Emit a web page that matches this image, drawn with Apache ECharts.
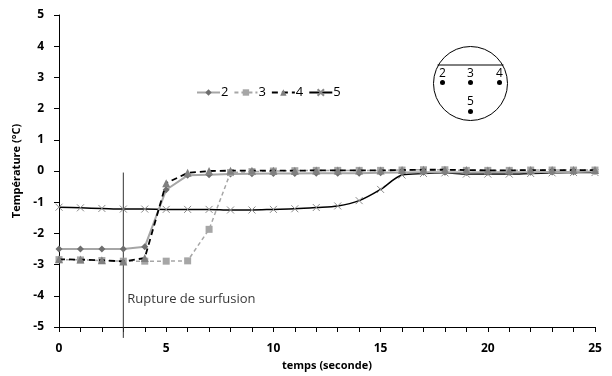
<!DOCTYPE html>
<html>
<head>
<meta charset="utf-8">
<script src="https://cdn.jsdelivr.net/npm/echarts@6/dist/echarts.min.js"></script>
<style>
  html, body { margin: 0; padding: 0; background: #fff; }
  #chart { width: 612px; height: 376px; }
</style>
</head>
<body>
<div id="chart"></div>
<script>
// temps (seconde)
const times = [0, 1, 2, 3, 4, 5, 6, 7, 8, 9, 10, 11, 12, 13, 14, 15, 16, 17, 18, 19, 20, 21, 22, 23, 24, 25];

// Température (°C) per thermocouple
const temp2 = [-2.5, -2.5, -2.5, -2.5, -2.43, -0.6, -0.14, -0.12, -0.1, -0.09, -0.08, -0.08, -0.07, -0.07, -0.07, -0.06, -0.05, -0.04, -0.04, -0.05, -0.04, -0.04, -0.04, -0.03, -0.03, -0.02];
const temp3 = [-2.84, -2.85, -2.87, -2.89, -2.89, -2.89, -2.88, -1.87, -0.05, -0.02, 0, 0.01, 0.02, 0.02, 0.02, 0.02, 0.03, 0.04, 0.04, 0.02, 0.02, 0.02, 0.03, 0.03, 0.03, 0.03];
const temp4 = [-2.83, -2.84, -2.86, -2.9, -2.79, -0.39, -0.06, 0, 0.01, 0.01, 0.01, 0.01, 0.02, 0.02, 0.02, 0.02, 0.03, 0.04, 0.04, 0.03, 0.02, 0.02, 0.03, 0.03, 0.03, 0.03];
const temp5 = [-1.16, -1.18, -1.2, -1.22, -1.22, -1.23, -1.23, -1.23, -1.25, -1.25, -1.23, -1.21, -1.17, -1.12, -0.95, -0.59, -0.13, -0.08, -0.06, -0.1, -0.1, -0.1, -0.08, -0.06, -0.05, -0.05];

// rupture marker
const ruptureTime = 3;
const ruptureSpan = [-0.05, -5.35];
const ruptureLabelY = -4.1;

const xTicks = { min: 0, max: 25, interval: 5 };
const yTicks = { min: -5, max: 5, interval: 1 };

const FONT = '"Open Sans", "Noto Sans", sans-serif';

const pair = arr => arr.map((v, i) => [times[i], v]);

const chart = echarts.init(document.getElementById('chart'));

chart.setOption({
  animation: false,
  textStyle: { fontFamily: FONT },
  grid: { left: 59, right: 17, top: 15, bottom: 49 },
  legend: {
    left: 196,
    top: 86,
    padding: 0,
    itemWidth: 23,
    itemHeight: 8,
    itemGap: 5,
    data: ['2', '3', '4', '5'],
    textStyle: { fontSize: 13, color: '#000', fontFamily: FONT, padding: [0, 0, 0, -4] }
  },
  xAxis: {
    type: 'value',
    min: xTicks.min,
    max: xTicks.max,
    interval: xTicks.interval,
    name: 'temps (seconde)',
    nameLocation: 'middle',
    nameGap: 26,
    nameTextStyle: { fontWeight: 'bold', fontSize: 11, color: '#000' },
    axisLine: { onZero: false, lineStyle: { color: '#000', width: 1 } },
    axisTick: { show: true, length: 5, lineStyle: { color: '#000' } },
    minorTick: { show: true, splitNumber: 5, length: 5, lineStyle: { color: '#000' } },
    axisLabel: { fontWeight: 'bold', fontSize: 12, color: '#000', margin: 16 },
    splitLine: { show: false }
  },
  yAxis: {
    type: 'value',
    min: yTicks.min,
    max: yTicks.max,
    interval: yTicks.interval,
    name: 'Température (°C)',
    nameLocation: 'middle',
    nameGap: 36,
    nameTextStyle: { fontWeight: 'bold', fontSize: 11, color: '#000' },
    axisLine: { show: true, lineStyle: { color: '#000', width: 1 } },
    axisTick: { show: true, length: 5, lineStyle: { color: '#000' } },
    axisLabel: { fontWeight: 'bold', fontSize: 12, color: '#000', margin: 15 },
    splitLine: { show: false }
  },
  series: [
    {
      name: 'rupture',
      type: 'line',
      data: [[ruptureTime, ruptureSpan[0]], [ruptureTime, ruptureSpan[1]]],
      symbol: 'none',
      clip: false,
      silent: true,
      lineStyle: { color: '#333', width: 1 },
      z: 1
    },
    {
      name: 'ruptureLabel',
      type: 'scatter',
      data: [[ruptureTime, ruptureLabelY]],
      symbolSize: 0,
      silent: true,
      label: {
        show: true,
        position: 'right',
        distance: 4,
        formatter: 'Rupture de surfusion',
        fontSize: 13,
        color: '#000',
        fontFamily: FONT
      }
    },
    {
      name: '2',
      type: 'line',
      data: pair(temp2),
      symbol: 'diamond',
      symbolSize: 7,
      itemStyle: { color: '#6e6e6e' },
      lineStyle: { color: '#a6a6a6', width: 2 },
      z: 3
    },
    {
      name: '3',
      type: 'line',
      data: pair(temp3),
      symbol: 'rect',
      symbolSize: 7,
      itemStyle: { color: '#a6a6a6' },
      lineStyle: { color: '#a6a6a6', width: 1.5, type: [4, 3] },
      z: 3
    },
    {
      name: '4',
      type: 'line',
      data: pair(temp4),
      symbol: 'triangle',
      symbolSize: 8,
      itemStyle: { color: '#808080' },
      lineStyle: { color: '#000', width: 1.8, type: [6, 4] },
      z: 4
    },
    {
      name: '5',
      type: 'line',
      data: pair(temp5),
      smooth: 0.3,
      symbol: 'path://M0,0L10,10M10,0L0,10',
      symbolSize: 7,
      itemStyle: { color: 'none', borderColor: '#8a8a8a', borderWidth: 1 },
      lineStyle: { color: '#000', width: 1.5 },
      z: 2
    }
  ],
  graphic: [
    {
      type: 'group',
      left: 431,
      top: 44,
      children: [
        { type: 'circle', shape: { cx: 37, cy: 37.5, r: 37 }, style: { fill: 'none', stroke: '#000', lineWidth: 1 } },
        { type: 'line', shape: { x1: 4, y1: 19, x2: 70, y2: 19 }, style: { stroke: '#000', lineWidth: 1 } },
        { type: 'text', x: 9, y: 28, style: { text: '2', font: '12px ' + FONT, fill: '#000', align: 'center', verticalAlign: 'middle' } },
        { type: 'text', x: 37, y: 28, style: { text: '3', font: '12px ' + FONT, fill: '#000', align: 'center', verticalAlign: 'middle' } },
        { type: 'text', x: 66, y: 28, style: { text: '4', font: '12px ' + FONT, fill: '#000', align: 'center', verticalAlign: 'middle' } },
        { type: 'text', x: 37, y: 56, style: { text: '5', font: '12px ' + FONT, fill: '#000', align: 'center', verticalAlign: 'middle' } },
        { type: 'circle', shape: { cx: 9, cy: 36.5, r: 2.5 }, style: { fill: '#000' } },
        { type: 'circle', shape: { cx: 37, cy: 36.5, r: 2.5 }, style: { fill: '#000' } },
        { type: 'circle', shape: { cx: 66, cy: 36.5, r: 2.5 }, style: { fill: '#000' } },
        { type: 'circle', shape: { cx: 37, cy: 65.5, r: 2.5 }, style: { fill: '#000' } }
      ]
    }
  ]
});
</script>
</body>
</html>
